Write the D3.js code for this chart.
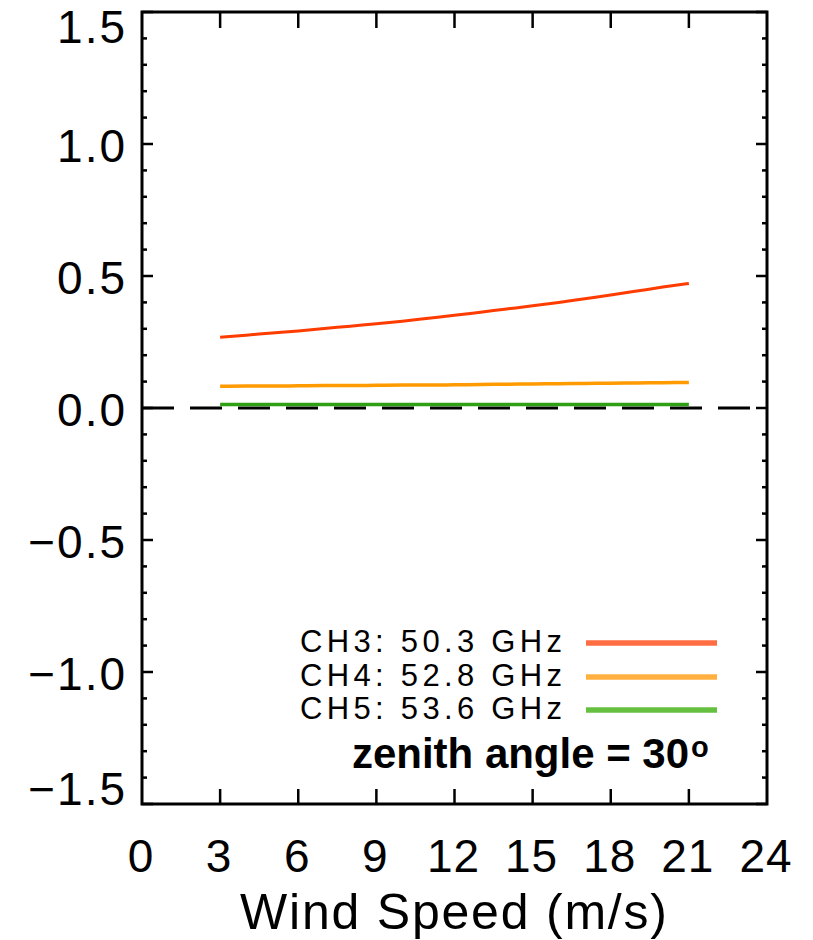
<!DOCTYPE html>
<html>
<head>
<meta charset="utf-8">
<script src="https://cdn.jsdelivr.net/npm/d3@7"></script>
<style>
  html, body { margin: 0; padding: 0; background: #fff; }
  svg { display: block; }
  text { font-family: "Liberation Sans", Arial, Helvetica, sans-serif; fill: #000; }
</style>
</head>
<body>
<svg id="chart" width="813" height="940"></svg>
<script>
// ---------------- data ----------------
const windSpeeds = [3,4,5,6,7,8,9,10,11,12,13,14,15,16,17,18,19,20,21];
const ch3Values = [0.268,0.276,0.284,0.292,0.301,0.310,0.319,0.329,0.340,0.351,0.363,0.375,0.387,0.400,0.414,0.428,0.443,0.458,0.472];
const ch4Values = [0.082,0.083,0.083,0.084,0.085,0.085,0.086,0.087,0.087,0.088,0.089,0.090,0.091,0.092,0.093,0.094,0.095,0.096,0.097];
const ch5Values = [0.013,0.013,0.013,0.013,0.013,0.013,0.013,0.013,0.013,0.013,0.013,0.013,0.013,0.013,0.013,0.013,0.013,0.013,0.013];
const seriesNames = ["CH3: 50.3 GHz", "CH4: 52.8 GHz", "CH5: 53.6 GHz"];
const lineColors = ["#ff3c00", "#ff9a00", "#2fa012"];
const legendColors = ["#ff6e42", "#ffb040", "#66c040"];
const xTicks = [0,3,6,9,12,15,18,21,24];
const yTicks = [-1.5,-1.0,-0.5,0.0,0.5,1.0,1.5];
const yMinorTicks = d3.range(-15, 16).map(d => d / 10);
const xTitle = "Wind Speed (m/s)";
const annotation = "zenith angle = 30";

// ---------------- layout ----------------
const svg = d3.select("#chart");
const L = 142, R = 767, T = 12, B = 804;
const x = d3.scaleLinear().domain([0, 24]).range([L, R]);
const y = d3.scaleLinear().domain([-1.5, 1.5]).range([B, T]);

// zero dashed line
svg.append("line")
  .attr("x1", x(0)).attr("x2", x(24))
  .attr("y1", y(0)).attr("y2", y(0))
  .attr("stroke", "#000").attr("stroke-width", 3)
  .attr("stroke-dasharray", "32,16");

// series
const allSeries = [ch3Values, ch4Values, ch5Values];
const widths = [3, 3.5, 3.5];
const line = d3.line().x((d, i) => x(windSpeeds[i])).y(d => y(d)).curve(d3.curveMonotoneX);
allSeries.forEach((vals, k) => {
  svg.append("path")
    .attr("d", line(vals))
    .attr("fill", "none")
    .attr("stroke", lineColors[k])
    .attr("stroke-width", widths[k]);
});

// frame
svg.append("rect")
  .attr("x", L).attr("y", T).attr("width", R - L).attr("height", B - T)
  .attr("fill", "none").attr("stroke", "#000").attr("stroke-width", 3);

// x ticks (bottom and top), inward
const xInner = xTicks.filter(v => v > 0 && v < 24);
xInner.forEach(v => {
  svg.append("line").attr("x1", x(v)).attr("x2", x(v)).attr("y1", B).attr("y2", B - 15)
    .attr("stroke", "#000").attr("stroke-width", 2.5);
  svg.append("line").attr("x1", x(v)).attr("x2", x(v)).attr("y1", T).attr("y2", T + 16)
    .attr("stroke", "#000").attr("stroke-width", 2.5);
});

// y ticks (left and right), inward
yMinorTicks.forEach(v => {
  const major = Math.abs(v * 2 - Math.round(v * 2)) < 1e-6;
  const len = major ? 11 : 5;
  svg.append("line").attr("x1", L).attr("x2", L + len).attr("y1", y(v)).attr("y2", y(v))
    .attr("stroke", "#000").attr("stroke-width", 2.5);
  svg.append("line").attr("x1", R).attr("x2", R - len).attr("y1", y(v)).attr("y2", y(v))
    .attr("stroke", "#000").attr("stroke-width", 2.5);
});

// y tick labels
const yFmt = v => (v < 0 ? "\u2212" : "") + Math.abs(v).toFixed(1);
yTicks.forEach(v => {
  let base = y(v) + 18;
  if (v === 1.5) base = y(v) + 31;
  if (v === -1.5) base = y(v) + 1;
  svg.append("text")
    .attr("x", 127).attr("y", base)
    .attr("text-anchor", "end")
    .attr("font-size", 46)
    .attr("letter-spacing", 2)
    .text(yFmt(v));
});

// x tick labels
xTicks.forEach(v => {
  svg.append("text")
    .attr("x", x(v) - 1).attr("y", 872)
    .attr("text-anchor", "middle")
    .attr("font-size", 46)
    .attr("letter-spacing", 1)
    .text(String(v));
});

// x axis title
svg.append("text")
  .attr("x", 240).attr("y", 929)
  .attr("font-size", 50)
  .attr("textLength", 427)
  .attr("lengthAdjust", "spacing")
  .text(xTitle);

// legend
const legendBase = [652, 686, 719];
seriesNames.forEach((name, k) => {
  svg.append("text")
    .attr("x", 300).attr("y", legendBase[k])
    .attr("font-size", 31)
    .attr("textLength", 262)
    .attr("lengthAdjust", "spacing")
    .text(name);
  svg.append("line")
    .attr("x1", 586).attr("x2", 717)
    .attr("y1", legendBase[k] - 9).attr("y2", legendBase[k] - 9)
    .attr("stroke", legendColors[k]).attr("stroke-width", 5.5);
});

// annotation
svg.append("text")
  .attr("x", 352).attr("y", 768)
  .attr("font-size", 42)
  .attr("font-weight", "bold")
  .attr("textLength", 337)
  .attr("lengthAdjust", "spacing")
  .text(annotation);
svg.append("text")
  .attr("x", 691).attr("y", 757)
  .attr("font-size", 29)
  .attr("font-weight", "bold")
  .text("o");
</script>
</body>
</html>
